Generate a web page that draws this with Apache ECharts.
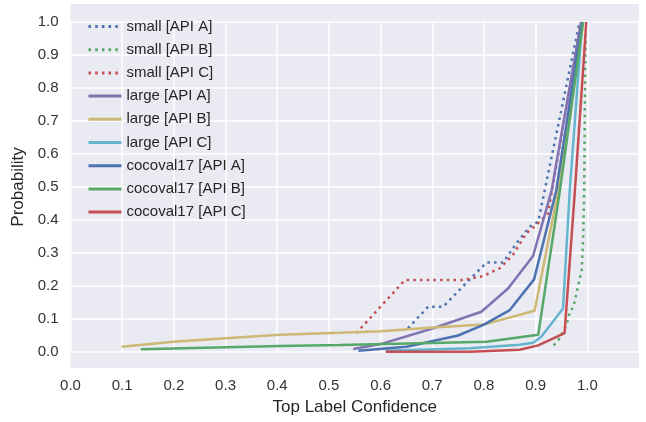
<!DOCTYPE html>
<html>
<head>
<meta charset="utf-8">
<script src="https://cdn.jsdelivr.net/npm/echarts@6/dist/echarts.min.js"></script>
<style>
html,body{margin:0;padding:0;background:#fff;}
#c{width:646px;height:422px;}
</style>
</head>
<body>
<div id="c"></div>
<script>
// ---- data (x = top label confidence, y = probability) ----
const seriesNames = ['small [API A]','small [API B]','small [API C]','large [API A]','large [API B]','large [API C]','cocoval17 [API A]','cocoval17 [API B]','cocoval17 [API C]'];
const smallA = [[0.653,0.072],[0.692,0.137],[0.721,0.137],[0.76,0.2],[0.805,0.271],[0.837,0.271],[0.863,0.33],[0.889,0.38],[0.905,0.395],[0.985,1.0]];
const smallB = [[0.935,0.02],[0.944,0.036],[0.96,0.082],[0.966,0.12],[0.973,0.137],[0.982,0.198],[0.989,0.248],[0.992,0.34],[0.994,0.5],[0.996,0.9],[0.997,0.96]];
const smallC = [[0.553,0.057],[0.647,0.218],[0.76,0.218],[0.798,0.23],[0.831,0.254],[0.856,0.294],[0.882,0.36],[0.898,0.38],[0.924,0.42],[0.988,1.0]];
const largeA = [[0.547,0.009],[0.605,0.026],[0.702,0.072],[0.795,0.122],[0.847,0.193],[0.895,0.291],[0.931,0.49],[0.988,1.0]];
const largeB = [[0.099,0.016],[0.199,0.031],[0.3,0.042],[0.405,0.052],[0.521,0.058],[0.6,0.063],[0.702,0.074],[0.799,0.083],[0.898,0.125],[0.944,0.49],[0.99,1.0]];
const largeC = [[0.61,0.004],[0.773,0.011],[0.869,0.022],[0.895,0.028],[0.911,0.046],[0.953,0.132],[0.966,0.49],[0.99,1.0]];
const cocoA = [[0.557,0.004],[0.65,0.016],[0.75,0.05],[0.799,0.082],[0.85,0.127],[0.897,0.22],[0.94,0.49],[0.99,1.0]];
const cocoB = [[0.136,0.008],[0.405,0.018],[0.521,0.021],[0.805,0.031],[0.905,0.052],[0.947,0.49],[0.992,1.0]];
const cocoC = [[0.61,0.001],[0.773,0.001],[0.869,0.007],[0.905,0.02],[0.956,0.057],[0.976,0.49],[0.998,1.0]];
const allData = [smallA, smallB, smallC, largeA, largeB, largeC, cocoA, cocoB, cocoC];
const colors = ['#4C72B0','#55A868','#C44E52','#8172B2','#CCB974','#64B5CD','#4C72B0','#55A868','#C44E52'];
const dotted = [true,true,true,false,false,false,false,false,false];

const FONT = '"Liberation Sans", Arial, sans-serif';
const gridL = 70.5, gridR = 7, gridT = 22, gridB = 70;
const chart = echarts.init(document.getElementById('c'), null, {renderer:'canvas'});
const series = allData.map((d,i)=>({
  name: seriesNames[i],
  type: 'line',
  data: d,
  symbol: 'none',
  z: 2 + i,
  lineStyle: {color: colors[i], width: 2.5, type: dotted[i] ? [2.5, 4.2] : 'solid', cap: 'butt'},
  itemStyle: {color: colors[i]},
  emphasis: {disabled: true}
}));
chart.setOption({
  animation: false,
  backgroundColor: '#ffffff',
  graphic: [{
    type: 'rect', z: -100, silent: true,
    shape: {x: 70.5, y: 4, width: 568.5, height: 364},
    style: {fill: '#EAEAF2'}
  }],
  grid: {left: gridL, right: gridR, top: gridT, bottom: gridB, containLabel: false},
  legend: {
    orient: 'vertical', left: 82, top: 14,
    itemWidth: 33, itemHeight: 14, itemGap: 8.2,
    data: seriesNames,
    itemStyle: {color: 'transparent', borderWidth: 0, opacity: 0},
    lineStyle: {width: 3},
    textStyle: {fontFamily: FONT, fontSize: 15, lineHeight: 14, color: '#262626'}
  },
  xAxis: {
    type: 'value', min: 0, max: 1.1, interval: 0.1,
    name: 'Top Label Confidence', nameLocation: 'middle', nameGap: 47,
    nameTextStyle: {fontFamily: FONT, fontSize: 17, color: '#262626'},
    axisLine: {show: false}, axisTick: {show: false},
    axisLabel: {margin: 26, fontFamily: FONT, fontSize: 15, color: '#333', showMaxLabel: false,
      formatter: v => (v > 1.05 ? '' : v.toFixed(1))},
    splitLine: {show: true, lineStyle: {color: '#ffffff', width: 1.5}}
  },
  yAxis: {
    type: 'value', min: 0, max: 1.0, interval: 0.1,
    name: 'Probability', nameLocation: 'middle', nameGap: 44,
    nameTextStyle: {fontFamily: FONT, fontSize: 17, color: '#262626'},
    axisLine: {show: false}, axisTick: {show: false},
    axisLabel: {margin: 12, fontFamily: FONT, fontSize: 15, color: '#333',
      formatter: v => v.toFixed(1)},
    splitLine: {show: true, lineStyle: {color: '#ffffff', width: 1.5}}
  },
  series: series
});
</script>
</body>
</html>
